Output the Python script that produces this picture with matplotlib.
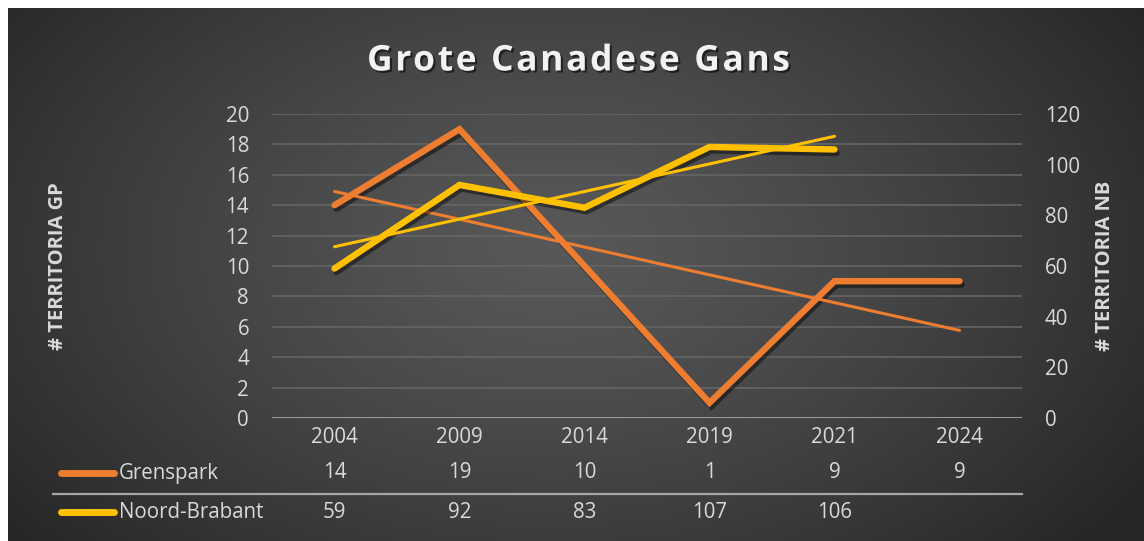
import numpy as np
import matplotlib
matplotlib.use("Agg")
import matplotlib.pyplot as plt
import matplotlib.patheffects as pe
from matplotlib.transforms import blended_transform_factory
from matplotlib.font_manager import FontProperties

categories = ["2004", "2009", "2014", "2019", "2021", "2024"]
grenspark = [14, 19, 10, 1, 9, 9]
noord_brabant = [59, 92, 83, 107, 106]
series_names = ["Grenspark", "Noord-Brabant"]
left_ticks = [0, 2, 4, 6, 8, 10, 12, 14, 16, 18, 20]
right_ticks = [0, 20, 40, 60, 80, 100, 120]
title_text = "Grote Canadese Gans"

ORANGE = "#ED7D31"
YELLOW = "#FFC000"
TXT = "#D9D9D9"
FONT = "Open Sans"
FS = 14.8
plt.rcParams["font.family"] = [FONT, "DejaVu Sans"]

W, H = 1144, 541
fig = plt.figure(figsize=(W / 100, H / 100), dpi=100)
fig.patch.set_facecolor("white")

# background radial gradient
bg = fig.add_axes([8 / W, 0, 1 - 8 / W, 1 - 8 / H])
bg.set_axis_off()
ny, nx = 300, 600
yy, xx = np.mgrid[0:ny, 0:nx]
cx, cy = nx * 0.48, ny * 0.45
r = np.sqrt(((xx - cx) / (nx * 0.62)) ** 2 + ((yy - cy) / (ny * 0.85)) ** 2)
r = np.clip(r, 0, 1)
v = (0x58 - (0x58 - 0x26) * r ** 1.3) / 255.0
img = np.dstack([v, v, v])
bg.imshow(img, aspect="auto", extent=[0, 1, 0, 1], interpolation="bilinear")
bg.set_xlim(0, 1)
bg.set_ylim(0, 1)

L, R, T, B = 272, 1022, 114, 418
ax = fig.add_axes([L / W, 1 - B / H, (R - L) / W, (B - T) / H])
ax.patch.set_alpha(0)
ax2 = ax.twinx()
ax2.patch.set_alpha(0)

x = np.arange(len(categories))
xn = np.arange(len(noord_brabant))

shadow = [pe.SimpleLineShadow(offset=(1.5, -2.5), shadow_color="black", alpha=0.45), pe.Normal()]

ax.set_ylim(0, 20)
ax.set_xlim(-0.5, len(categories) - 0.5)
ax2.set_ylim(0, 120)
ax.set_yticks(left_ticks)
ax2.set_yticks(right_ticks)
for yv in left_ticks[1:]:
    ax.axhline(yv, color="#656565", lw=1.2, zorder=0)
ax.axhline(0, color="#A6A6A6", lw=2.0, zorder=1)

# Grenspark data + trend
ax.plot(x, grenspark, color=ORANGE, lw=4.6, solid_capstyle="round",
        solid_joinstyle="miter", zorder=3, path_effects=shadow)
c = np.polyfit(x, grenspark, 1)
ax.plot(x, np.polyval(c, x), color=ORANGE, lw=2.2, solid_capstyle="round", zorder=3)

# Noord-Brabant data + trend
ax2.plot(xn, noord_brabant, color=YELLOW, lw=4.6, solid_capstyle="round",
         solid_joinstyle="miter", zorder=3, path_effects=shadow)
c2 = np.polyfit(xn, noord_brabant, 1)
ax2.plot(xn, np.polyval(c2, xn), color=YELLOW, lw=2.2, solid_capstyle="round", zorder=3)
ax2.set_xlim(ax.get_xlim())

for a in (ax, ax2):
    for s in a.spines.values():
        s.set_visible(False)
ax.tick_params(axis="y", length=0, pad=16.5, labelsize=FS, labelcolor=TXT)
ax2.tick_params(axis="y", length=0, pad=16.5, labelsize=FS, labelcolor=TXT)
ax.set_xticks(x)
ax.set_xticklabels(categories)
ax.tick_params(axis="x", length=0, pad=6.5, labelsize=FS, labelcolor=TXT)

# axis titles
fig.text(58 / W, 1 - 266 / H, "# TERRITORIA GP", rotation=90, ha="center", va="center",
         color=TXT, fontsize=14.5, fontweight="bold")
fig.text(1105 / W, 1 - 266 / H, "# TERRITORIA NB", rotation=90, ha="center", va="center",
         color=TXT, fontsize=14.5, fontweight="bold")

# title with letter spacing
renderer = fig.canvas.get_renderer()
tprop = FontProperties(family=FONT, weight="bold", size=25.5)
def tw(s):
    return renderer.get_text_width_height_descent(s, tprop, ismath=False)[0]
target_w = 423.0
n = len(title_text)
sp = (target_w - tw(title_text)) / (n - 1)
x0 = 367.0
tshadow = [pe.withSimplePatchShadow(offset=(1.5, -1.5), shadow_rgbFace="black", alpha=0.55)]
for i, ch in enumerate(title_text):
    if ch == " ":
        continue
    px = x0 + tw(title_text[:i + 1]) - tw(ch) + i * sp
    fig.text(px / W, 1 - 57 / H, ch, ha="left", va="center_baseline", color="#F2F2F2",
             fontproperties=tprop, path_effects=tshadow)

# data table
tr = blended_transform_factory(ax.transData, fig.transFigure)
row_y = [1 - 473 / H, 1 - 512 / H]
rows = [grenspark, noord_brabant]
colors = [ORANGE, YELLOW]
for vals, yv, col, name in zip(rows, row_y, colors, series_names):
    for i, val in enumerate(vals):
        fig.text(x[i], yv, str(val), transform=tr, ha="center", va="center",
                 color=TXT, fontsize=FS)
    fig.add_artist(plt.Line2D([61 / W, 114 / W], [yv, yv], color=col, lw=5,
                              solid_capstyle="round", transform=fig.transFigure))
    fig.text(119 / W, yv, name, ha="left", va="center", color=TXT, fontsize=FS)
fig.add_artist(plt.Line2D([53 / W, R / W], [1 - 494 / H, 1 - 494 / H], color="#A6A6A6",
                          lw=1.6, transform=fig.transFigure))

fig.savefig("out.png", dpi=100, facecolor=fig.get_facecolor())
